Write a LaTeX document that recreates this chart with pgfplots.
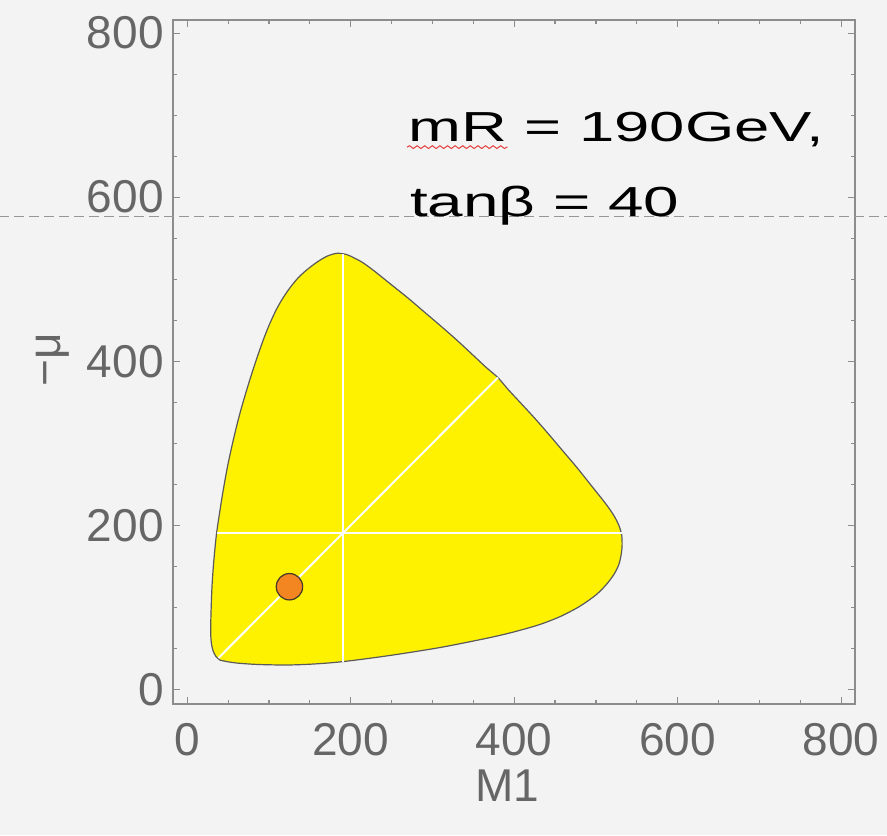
\documentclass[border=0pt]{standalone}
\usepackage{pgfplots}
\pgfplotsset{compat=1.18}
\usepackage{fontspec}
\setmainfont{Liberation Sans}
\usetikzlibrary{decorations.pathmorphing}

\definecolor{bg}{RGB}{243,243,243}
\definecolor{axisgray}{RGB}{140,140,140}
\definecolor{labelgray}{RGB}{102,102,102}
\definecolor{edgegray}{RGB}{90,90,90}
\definecolor{dotorange}{RGB}{244,134,34}
\definecolor{dotedge}{RGB}{70,55,40}
\definecolor{dashgray}{RGB}{150,150,150}
\definecolor{squiggle}{RGB}{232,64,64}

\newcommand\tickfont{\fontsize{23}{27}\selectfont}

\begin{document}
\begin{tikzpicture}
% page background and picture extent
\path[use as bounding box, fill=bg] (-86.5pt,-65.5pt) rectangle (357pt,352pt);
\begin{axis}[
  scale only axis,
  width=341pt, height=342pt,
  xmin=-17.5, xmax=817, ymin=-18, ymax=816,
  xtick={0,200,...,800}, ytick={0,200,...,800},
  minor tick num=3,
  xtick pos=both, ytick pos=both,
  xticklabel pos=lower, yticklabel pos=left,
  tick align=inside,
  major tick length=3.5pt, minor tick length=2pt,
  axis line style={draw=axisgray, line width=0.7pt},
  every tick/.style={draw=axisgray, line width=0.6pt},
  axis background/.style={fill=bg},
  /pgf/number format/assume math mode=true,
  xticklabel style={font=\tickfont, text=labelgray, inner sep=0pt, anchor=north, yshift=-9.5pt},
  yticklabel style={font=\tickfont, text=labelgray, inner sep=0pt, anchor=east, xshift=-4.5pt},
  xlabel={M1}, ylabel={−μ},
  xlabel style={font=\tickfont, text=labelgray, at={(rel axis cs:0.49,-0.12)}, anchor=center},
  ylabel style={font=\tickfont, text=labelgray, at={(rel axis cs:-0.176,0.503)}, anchor=center},
  clip=false,
]

% allowed region in the (M1, -mu) plane
\addplot[fill=yellow, draw=edgegray, line width=0.6pt, line join=round, smooth, tension=0.5] coordinates {
  (40,35.5) (35,40) (31.5,47) (29.5,56) (28.6,68) (28.8,85) (29.4,105) (30.2,125)
  (31.5,145) (33.2,165) (35.8,190) (39.5,215) (44,243) (49.5,273) (56.3,304) (64,335)
  (72.7,365) (82.5,396) (93,426) (101,446) (109,463) (117,477) (126,490) (136,502)
  (147,512) (159,521) (171,528) (183,531.5)
  (195,530) (205,525.5) (215,520) (230,509) (250,493) (270,477) (290,460) (310,443)
  (330,425.5) (350,407) (365,393) (380,380)
  (393,365) (407,350) (425.5,330) (443,310) (460,290) (477,270) (493,250) (509,230)
  (516.5,220) (523,210) (528,200) (531.5,188) (532,175) (531,165)
  (528,152) (522,140) (513,128) (500,115) (480,101) (456,88.5) (430,78.5) (400,70)
  (375,64) (346,58) (310,51) (270,44.5) (236,39.5) (200,34.8) (175,32.2) (150,30.5)
  (125,29.6) (100,29.8) (80,30.5) (60,32) (48,33.8) (40,35.5)
} -- cycle;

% benchmark point
\addplot[only marks, mark=*, mark size=6.6pt,
  mark options={fill=dotorange, draw=dotedge, line width=0.6pt}] coordinates {(125,125)};

% reference lines at 190 GeV and the diagonal M1 = -mu
\addplot[white, line width=1pt] coordinates {(190,33.8) (190,531)};
\addplot[white, line width=1pt] coordinates {(35.8,190) (531.5,190)};
\addplot[white, line width=1pt] coordinates {(38,38) (380,380)};

% horizontal dashed line across the page
\addplot[dashgray, line width=0.5pt, dash pattern=on 5pt off 2.5pt] coordinates {(-230,576) (858,576)};

% annotation
\node[anchor=base west, inner sep=0pt, text=black] at (axis cs:270,667.8)
  {\scalebox{1.51}[1]{\fontsize{21}{25}\selectfont mR = 190GeV,}};
\node[anchor=base west, inner sep=0pt, text=black] at (axis cs:272,576.3)
  {\scalebox{1.52}[1]{\fontsize{21}{25}\selectfont tanβ = 40}};
\draw[squiggle, line width=0.5pt, decorate,
  decoration={snake, amplitude=0.7pt, segment length=3.8pt}]
  (axis cs:269,661) -- (axis cs:392,661);
\end{axis}
\end{tikzpicture}
\end{document}
